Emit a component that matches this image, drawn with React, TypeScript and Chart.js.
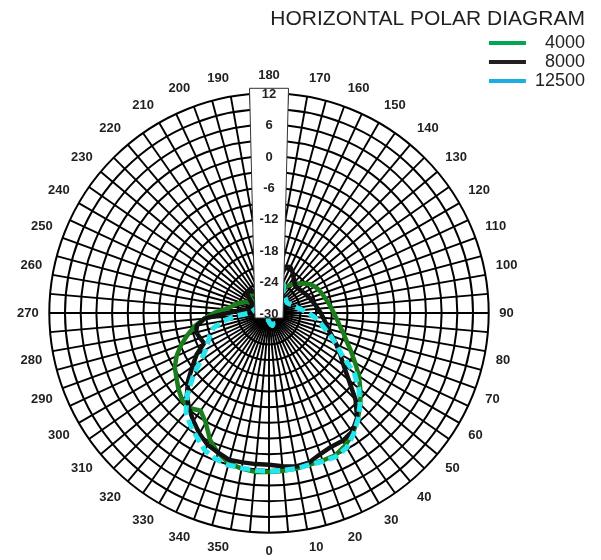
import React, { useEffect, useRef } from 'react';
import { Chart, registerables } from 'chart.js';

Chart.register(...registerables);

// Angles (degrees) of the polar grid, 0 at the bottom, counter-clockwise
const ANGLES = [
  0, 5, 10, 15, 20, 25, 30, 35, 40, 45, 50, 55,
  60, 65, 70, 75, 80, 85, 90, 95, 100, 105, 110, 115,
  120, 125, 130, 135, 140, 145, 150, 155, 160, 165, 170, 175,
  180, 185, 190, 195, 200, 205, 210, 215, 220, 225, 230, 235,
  240, 245, 250, 255, 260, 265, 270, 275, 280, 285, 290, 295,
  300, 305, 310, 315, 320, 325, 330, 335, 340, 345, 350, 355,
];

// Angle labels shown around the diagram
const ANGLE_LABELS = [
  0, 10, 20, 30, 40, 50, 60, 70, 80, 90, 100, 110,
  120, 130, 140, 150, 160, 170, 180, 190, 200, 210, 220, 230,
  240, 250, 260, 270, 280, 290, 300, 310, 320, 330, 340, 350,
];

// Radial axis (dB)
const DB_MIN = -30;
const DB_MAX = 12;
const DB_STEP = 3;
const DB_TICK_LABELS = [-30, -24, -18, -12, -6, 0, 6, 12];

// Series names
const SERIES_NAMES = ['4000', '8000', '12500'];

// Levels in dB at each angle of ANGLES
const SPL_4000 = [
  0.4, 0.3, 0.2, 0.0, 0.0, 0.0, -0.8, -2.0, -3.6, -5.3, -7.2, -9.0,
  -11.0, -12.7, -14.2, -15.3, -16.3, -17.0, -17.6, -18.1, -18.5, -18.9, -19.2, -19.5,
  -19.9, -20.4, -21.2, -22.0, -22.8, -23.6, -24.5, -25.4, -26.3, -27.0, -27.6, -28.0,
  -28.2, -28.0, -27.6, -27.2, -26.9, -26.5, -26.1, -25.7, -25.3, -24.9, -25.0, -26.4,
  -25.8, -25.0, -24.3, -23.4, -22.8, -21.6, -19.5, -17.6, -15.6, -13.9, -12.1, -10.5,
  -9.2, -8.4, -7.4, -6.5, -6.3, -7.2, -5.8, -3.3, -1.5, -0.3, 0.2, 0.5,
];

const SPL_8000 = [
  -1.0, -0.6, -0.2, -0.4, -1.3, -1.8, -1.8, -2.3, -3.8, -6.6, -10.1, -12.6,
  -14.3, -15.8, -17.2, -18.3, -19.0, -19.6, -20.1, -20.6, -21.0, -21.4, -21.7, -22.0,
  -22.3, -22.5, -22.7, -22.8, -22.4, -21.8, -21.0, -20.3, -20.6, -24.0, -26.0, -27.5,
  -28.0, -27.0, -26.5, -27.5, -26.5, -26.0, -25.5, -25.0, -24.5, -24.2, -24.6, -25.5,
  -26.2, -26.8, -27.2, -27.4, -26.8, -24.6, -22.1, -17.6, -16.0, -15.6, -16.0, -16.3,
  -14.0, -12.1, -9.8, -7.8, -6.2, -4.8, -3.4, -2.2, -1.6, -0.9, -1.0, -1.0,
];

const SPL_12500 = [
  0.3, 0.2, 0.2, 0.0, 0.2, 0.3, -0.3, -1.8, -3.5, -5.4, -7.6, -10.1,
  -13.9, -15.8, -17.6, -19.1, -20.2, -21.3, -22.5, -23.6, -24.4, -25.0, -25.4, -25.8,
  -26.0, -26.0, -25.8, -25.7, -25.6, -25.4, -24.5, -23.4, -26.5, -29.5, -31.0, -31.5,
  -31.6, -32.0, -32.3, -32.5, -32.3, -31.5, -30.5, -29.6, -29.0, -28.6, -28.3, -28.0,
  -27.8, -27.6, -27.4, -27.2, -27.0, -26.8, -26.3, -23.6, -21.2, -19.0, -18.0, -17.2,
  -16.1, -14.0, -11.0, -7.9, -5.3, -3.8, -2.5, -1.0, -0.3, 0.1, 0.1, 0.2,
];

const SERIES_VALUES = [SPL_4000, SPL_8000, SPL_12500];
const LINE_COLORS = ['#1b7d1b', '#111111', '#25e6ee'];
const LEGEND_COLORS = ['#00a651', '#231f20', '#1aaee3'];
const LINE_DASHES = [[], [], [10, 5]];
const LINE_WIDTHS = [4.5, 4.5, 5];
const DRAW_ORDER = [3, 2, 1];

const FONT = "'Liberation Sans', Arial, Helvetica, sans-serif";
const TEXT_COLOR = '#231f20';

// Chart labels go clockwise from the top (180), i.e. decreasing angle
const TOP_INDEX = ANGLES.indexOf(180);
const chartIndexToSource = (i: number) => (TOP_INDEX - i + ANGLES.length) % ANGLES.length;

// White column holding the dB tick labels, drawn over the curves
const scaleColumnPlugin = {
  id: 'scaleColumn',
  afterDatasetsDraw(chart: any) {
    const s = chart.scales.r;
    if (!s) return;
    const ctx = chart.ctx;
    const cx = s.xCenter;
    const cy = s.yCenter;
    const R = s.drawingArea;
    const top = cy - R - 5;
    const bottom = cy + 5;
    const topHalf = 19.5;
    const bottomHalf = 14;
    ctx.save();
    ctx.beginPath();
    ctx.moveTo(cx - topHalf, top);
    ctx.lineTo(cx + topHalf, top);
    ctx.lineTo(cx + bottomHalf, bottom);
    ctx.lineTo(cx - bottomHalf, bottom);
    ctx.closePath();
    ctx.fillStyle = '#ffffff';
    ctx.fill();
    ctx.lineWidth = 1;
    ctx.strokeStyle = '#333333';
    ctx.stroke();
    ctx.translate(0, 1);
    s.drawLabels();
    ctx.restore();
  },
};

const legendPlacePlugin = {
  id: 'legendPlace',
  afterLayout(chart: any) {
    const lg = chart.legend;
    if (!lg || !lg.columnSizes || !lg.columnSizes.length) return;
    const pad = lg.options.labels.padding;
    const colW = lg.columnSizes[0].width;
    const right = chart.width - 16;
    lg.left = right - colW - pad;
    lg.right = chart.width;
    lg.width = lg.right - lg.left;
    lg.top = 33;
    lg.height = 80;
    lg.bottom = lg.top + lg.height;
  },
};

export default function App() {
  const canvasRef = useRef<HTMLCanvasElement | null>(null);

  useEffect(() => {
    const canvas = canvasRef.current;
    if (!canvas) return;

    const labels = ANGLES.map((_, i) => ANGLES[chartIndexToSource(i)]);
    const maxLen = Math.max(...SERIES_NAMES.map((n) => n.length));

    const datasets = SERIES_NAMES.map((name, k) => ({
      label: name,
      data: ANGLES.map((_, i) => SERIES_VALUES[k][chartIndexToSource(i)]),
      borderColor: LINE_COLORS[k],
      backgroundColor: LINE_COLORS[k],
      borderWidth: LINE_WIDTHS[k],
      borderDash: LINE_DASHES[k],
      borderJoinStyle: 'round' as const,
      fill: false,
      pointRadius: 0,
      pointHoverRadius: 0,
      tension: 0,
      order: DRAW_ORDER[k],
    }));

    const chart = new Chart(canvas, {
      type: 'radar',
      data: { labels, datasets },
      options: {
        responsive: false,
        animation: false,
        events: [],
        layout: { padding: { left: 12, right: 16, top: 0, bottom: 0 } },
        scales: {
          r: {
            min: DB_MIN,
            max: DB_MAX,
            startAngle: 0,
            grid: { circular: true, color: '#000000', lineWidth: 2 },
            angleLines: { display: true, color: '#000000', lineWidth: 1.9 },
            ticks: {
              stepSize: DB_STEP,
              showLabelBackdrop: false,
              backdropPadding: 0,
              color: TEXT_COLOR,
              font: { family: FONT, size: 13, weight: 'bold' },
              callback: (v: any) => (DB_TICK_LABELS.includes(Number(v)) ? String(v) : ''),
            },
            pointLabels: {
              display: true,
              padding: 4,
              color: TEXT_COLOR,
              font: { family: FONT, size: 13, weight: 'bold' },
              callback: (label: any) => (ANGLE_LABELS.includes(Number(label)) ? String(label) : ''),
            },
          },
        },
        plugins: {
          title: {
            display: true,
            text: 'HORIZONTAL POLAR DIAGRAM',
            align: 'end',
            color: TEXT_COLOR,
            font: { family: FONT, size: 21, weight: 'normal' },
            padding: { top: 7, bottom: 35 },
          },
          legend: {
            display: true,
            position: 'right',
            align: 'start',
            maxWidth: 62,
            labels: {
              boxWidth: 37,
              boxHeight: 4,
              padding: 1,
              color: TEXT_COLOR,
              font: { family: FONT, size: 18 },
              generateLabels: () =>
                SERIES_NAMES.map((name, k) => ({
                  text: '\u2007'.repeat(maxLen - name.length) + name,
                  fillStyle: LEGEND_COLORS[k],
                  strokeStyle: LEGEND_COLORS[k],
                  lineWidth: 0,
                  hidden: false,
                  datasetIndex: k,
                  fontColor: TEXT_COLOR,
                })),
            },
          },
          tooltip: { enabled: false },
        },
      } as any,
      plugins: [scaleColumnPlugin, legendPlacePlugin],
    });

    return () => chart.destroy();
  }, []);

  return (
    <div style={{ position: 'fixed', left: 0, top: 0, width: 601, height: 560, background: '#fff' }}>
      <canvas ref={canvasRef} width={601} height={560} style={{ display: 'block' }} />
    </div>
  );
}
